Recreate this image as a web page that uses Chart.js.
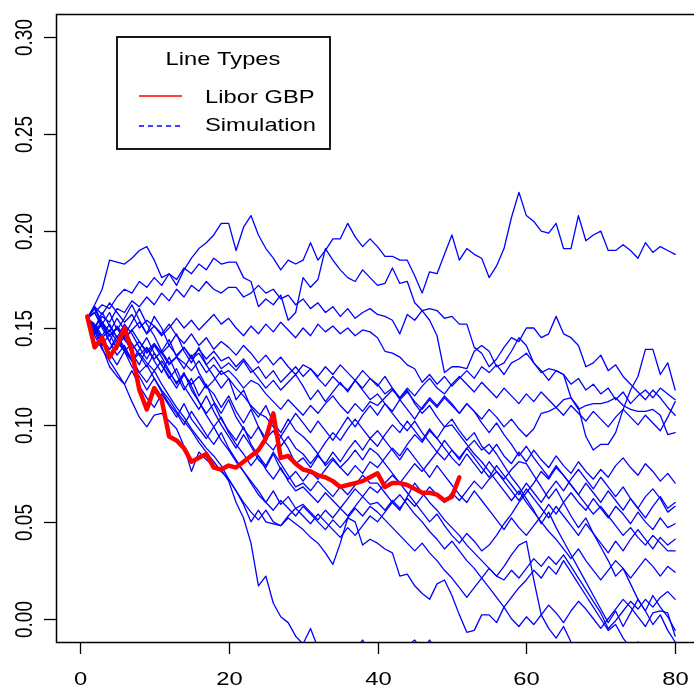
<!DOCTYPE html>
<html>
<head>
<meta charset="utf-8">
<script src="https://cdn.jsdelivr.net/npm/chart.js@4.4.1/dist/chart.umd.min.js"></script>
<style>
  html, body { margin: 0; padding: 0; background: #fff; overflow: hidden; }
  #wrap { position: relative; width: 700px; height: 687px; }
</style>
</head>
<body>
<div id="wrap"><canvas id="rateChart"></canvas></div>
<script>
// Libor GBP observed rate, months 1..51
const libor = [0.156,0.140,0.145,0.135,0.141,0.150,0.138,0.118,0.108,0.119,
  0.113,0.094,0.092,0.088,0.081,0.083,0.085,0.078,0.077,0.079,
  0.078,0.081,0.084,0.087,0.093,0.106,0.083,0.084,0.080,0.077,
  0.076,0.074,0.073,0.071,0.068,0.069,0.070,0.071,0.073,0.075,
  0.068,0.070,0.070,0.069,0.067,0.065,0.065,0.064,0.061,0.063,0.073];

// simulated paths, months 1..80
const sim1 = [.155,.162,.170,.185,.184,.183,.186,.190,.192,.185,
  .176,.178,.172,.180,.186,.191,.194,.198,.204,.204,
  .190,.202,.208,.198,.191,.186,.180,.185,.183,.185,
  .194,.185,.190,.196,.196,.204,.197,.192,.196,.192,
  .187,.187,.185,.185,.177,.168,.179,.178,.188,.198,
  .185,.191,.188,.186,.176,.182,.191,.207,.220,.208,
  .205,.200,.199,.204,.191,.191,.208,.195,.198,.200,
  .190,.190,.193,.190,.186,.194,.189,.192,.190,.188];
const sim2 = [.155,.158,.162,.160,.166,.170,.168,.174,.171,.176,
  .172,.178,.175,.181,.178,.183,.180,.186,.183,.184,
  .184,.176,.174,.161,.165,.162,.167,.154,.158,.176,
  .171,.175,.191,.185,.180,.176,.174,.180,.176,.172,
  .173,.181,.173,.174,.163,.159,.154,.146,.127,.130,
  .130,.129,.138,.141,.138,.130,.132,.138,.145,.141,
  .132,.128,.123,.128,.126,.121,.124,.118,.121,.116,
  .119,.113,.117,.111,.115,.118,.114,.119,.116,.113];
const sim3 = [.155,.150,.156,.153,.160,.158,.164,.161,.166,.162,
  .168,.164,.170,.166,.172,.169,.174,.170,.168,.171,
  .171,.166,.168,.172,.168,.170,.165,.167,.162,.165,
  .160,.163,.158,.161,.156,.160,.155,.158,.160,.157,
  .156,.154,.147,.157,.154,.159,.160,.159,.155,.156,
  .152,.152,.140,.137,.130,.134,.140,.145,.143,.150,
  .150,.145,.147,.156,.147,.145,.141,.130,.132,.136,
  .128,.131,.125,.121,.117,.113,.118,.114,.109,.105];
const sim4 = [.155,.148,.152,.146,.150,.144,.149,.153,.147,.151,
  .146,.150,.155,.150,.154,.149,.153,.157,.152,.155,
  .150,.146,.151,.147,.152,.148,.153,.149,.145,.150,
  .146,.152,.148,.151,.147,.150,.146,.149,.148,.145,
  .138,.137,.135,.131,.129,.122,.126,.121,.125,.120,
  .124,.128,.124,.130,.127,.131,.126,.132,.134,.137,
  .132,.127,.129,.128,.126,.114,.108,.110,.111,.111,
  .112,.114,.110,.108,.107,.107,.108,.105,.095,.096];
const sim5 = [.155,.151,.145,.149,.143,.138,.142,.136,.140,.134,
  .138,.132,.135,.140,.134,.137,.131,.135,.129,.132,
  .128,.133,.127,.130,.124,.128,.122,.126,.130,.125,
  .129,.124,.120,.125,.121,.118,.123,.119,.124,.121,
  .116,.119,.113,.117,.112,.108,.113,.109,.114,.110,
  .106,.111,.107,.103,.108,.104,.099,.103,.098,.094,
  .098,.106,.107,.109,.113,.114,.109,.094,.087,.090,
  .090,.096,.108,.118,.125,.139,.139,.126,.132,.118];
const sim6 = [.155,.161,.157,.163,.158,.153,.157,.150,.154,.151,
  .147,.152,.146,.142,.147,.141,.145,.139,.143,.140,
  .136,.141,.137,.132,.136,.131,.135,.130,.126,.131,
  .129,.125,.130,.126,.131,.127,.123,.128,.124,.120,
  .125,.119,.114,.118,.111,.106,.110,.104,.099,.103,
  .097,.092,.096,.089,.085,.090,.084,.080,.086,.081,
  .087,.082,.078,.084,.079,.075,.081,.076,.072,.077,
  .073,.079,.083,.078,.074,.080,.076,.071,.075,.070];
const sim7 = [.155,.149,.153,.146,.150,.145,.149,.143,.138,.142,
  .137,.141,.136,.140,.135,.139,.134,.138,.133,.135,
  .130,.134,.129,.124,.119,.123,.118,.122,.126,.120,
  .113,.118,.112,.117,.122,.117,.123,.118,.113,.116,
  .111,.107,.113,.108,.103,.109,.114,.110,.115,.111,
  .106,.111,.107,.101,.096,.101,.095,.090,.084,.089,
  .083,.078,.073,.079,.074,.069,.064,.070,.065,.060,
  .066,.061,.056,.062,.057,.052,.058,.063,.057,.060];
const sim8 = [.155,.158,.151,.146,.150,.144,.139,.143,.137,.141,
  .137,.131,.135,.132,.128,.133,.127,.131,.126,.128,
  .124,.119,.123,.121,.116,.112,.108,.113,.109,.105,
  .110,.106,.111,.115,.110,.106,.111,.107,.112,.110,
  .114,.118,.114,.119,.115,.120,.124,.119,.116,.121,
  .125,.121,.117,.122,.118,.114,.119,.115,.111,.116,
  .112,.117,.113,.109,.105,.110,.106,.102,.107,.103,
  .099,.104,.108,.104,.100,.105,.101,.097,.104,.112];
const sim9 = [.155,.150,.144,.139,.144,.138,.133,.137,.132,.128,
  .133,.127,.122,.126,.121,.125,.119,.123,.128,.124,
  .119,.115,.110,.106,.104,.099,.094,.100,.106,.101,
  .096,.102,.097,.092,.098,.104,.099,.105,.110,.105,
  .111,.106,.101,.097,.102,.096,.091,.086,.092,.087,
  .082,.088,.083,.078,.073,.079,.074,.069,.064,.070,
  .065,.060,.066,.071,.066,.072,.077,.072,.067,.073,
  .068,.063,.068,.062,.057,.063,.067,.062,.055,.058];
const sim10 = [.155,.160,.152,.158,.149,.155,.162,.154,.147,.156,
  .150,.141,.147,.138,.132,.140,.131,.125,.119,.124,
  .113,.118,.109,.104,.110,.101,.096,.103,.097,.094,
  .090,.085,.091,.096,.092,.098,.103,.098,.093,.097,
  .092,.087,.082,.088,.083,.078,.073,.079,.074,.069,
  .064,.060,.066,.061,.056,.051,.046,.052,.047,.043,
  .048,.053,.059,.054,.060,.065,.060,.056,.062,.057,
  .052,.058,.054,.049,.055,.050,.046,.052,.047,.049];
const sim11 = [.155,.149,.141,.147,.139,.146,.137,.131,.140,.133,
  .127,.135,.126,.118,.124,.115,.121,.112,.106,.113,
  .104,.098,.093,.099,.091,.087,.094,.088,.080,.083,
  .078,.084,.080,.086,.081,.087,.092,.087,.093,.089,
  .095,.100,.096,.102,.097,.092,.098,.093,.088,.083,
  .079,.085,.080,.075,.081,.076,.071,.066,.061,.067,
  .062,.057,.052,.058,.053,.048,.043,.049,.044,.039,
  .034,.040,.035,.041,.046,.041,.036,.042,.038,.041];
const sim12 = [.155,.158,.150,.143,.151,.146,.153,.160,.152,.146,
  .138,.144,.135,.129,.136,.127,.120,.116,.109,.115,
  .107,.101,.108,.099,.093,.097,.089,.094,.088,.085,
  .080,.085,.079,.083,.078,.082,.087,.082,.088,.085,
  .080,.075,.070,.065,.060,.055,.050,.054,.048,.043,
  .039,.044,.040,.035,.038,.043,.049,.054,.060,.065,
  .070,.076,.072,.078,.074,.069,.064,.059,.054,.058,
  .053,.048,.043,.047,.042,.038,.043,.039,.035,.035];
const sim13 = [.155,.147,.152,.143,.136,.141,.133,.139,.145,.137,
  .131,.124,.129,.120,.114,.108,.115,.107,.100,.094,
  .088,.095,.089,.082,.078,.085,.077,.072,.076,.071,
  .076,.072,.077,.082,.078,.074,.079,.075,.081,.078,
  .083,.088,.084,.090,.095,.091,.097,.093,.099,.100,
  .095,.090,.085,.081,.076,.071,.066,.061,.066,.060,
  .055,.050,.045,.041,.036,.031,.036,.030,.025,.020,
  .025,.030,.026,.021,.026,.031,.027,.022,.027,.024];
const sim14 = [.155,.150,.158,.151,.145,.152,.147,.140,.134,.141,
  .135,.128,.121,.127,.118,.112,.106,.111,.103,.097,
  .092,.099,.090,.084,.079,.086,.080,.074,.068,.070,
  .066,.071,.067,.063,.068,.064,.069,.074,.070,.070,
  .065,.060,.064,.059,.054,.050,.045,.041,.036,.040,
  .035,.030,.026,.021,.016,.011,.006,.000,-.004,.001,
  -.003,.002,.007,.003,-.002,.004,.009,.005,.000,-.005,
  .000,.005,.010,.006,.001,-.004,.003,.004,.003,-.009];
const sim15 = [.155,.161,.153,.148,.155,.149,.142,.136,.130,.137,
  .131,.125,.119,.126,.120,.112,.105,.099,.104,.096,
  .090,.085,.079,.084,.077,.072,.078,.071,.066,.068,
  .064,.060,.065,.061,.057,.062,.067,.063,.068,.065,
  .070,.074,.070,.075,.080,.076,.081,.086,.082,.087,
  .083,.088,.092,.087,.090,.085,.079,.073,.068,.062,
  .056,.049,.055,.047,.040,.033,.026,.019,.012,.005,
  -.002,.004,-.004,.003,.010,.004,.012,.006,.001,-.006];
const sim16 = [.155,.150,.143,.137,.131,.138,.130,.125,.118,.124,
  .117,.111,.106,.100,.107,.101,.095,.090,.096,.088,
  .082,.076,.071,.066,.060,.066,.059,.063,.057,.059,
  .055,.051,.056,.052,.057,.053,.058,.063,.059,.060,
  .056,.061,.057,.062,.058,.063,.068,.064,.060,.065,
  .061,.066,.071,.067,.072,.076,.072,.077,.081,.080,
  .074,.068,.062,.067,.060,.053,.047,.052,.044,.037,
  .030,.022,.026,.018,.010,.004,-.003,.002,-.006,-.012];
const sim17 = [.155,.146,.139,.133,.127,.121,.128,.120,.114,.109,
  .116,.110,.104,.111,.103,.098,.093,.099,.092,.087,
  .081,.076,.070,.064,.060,.056,.061,.057,.053,.058,
  .054,.050,.046,.051,.047,.052,.057,.053,.058,.055,
  .051,.047,.043,.039,.035,.039,.034,.030,.025,.021,
  .016,.011,.016,.021,.026,.022,.027,.033,.038,.040,
  .020,.002,-.005,-.010,-.004,-.012,-.018,-.015,-.022,-.020,
  -.025,-.020,-.028,-.023,-.030,-.026,-.032,-.028,-.035,-.030];
const sim18 = [.155,.152,.146,.152,.145,.139,.133,.127,.131,.124,
  .118,.113,.107,.102,.097,.091,.086,.081,.076,.072,
  .066,.060,.055,.051,.056,.050,.048,.053,.057,.053,
  .049,.054,.050,.046,.042,.047,.043,.048,.053,.050,
  .055,.060,.056,.063,.070,.065,.060,.056,.051,.047,
  .043,.038,.034,.030,.026,.022,.020,.025,.021,.026,
  .031,.027,.032,.028,.033,.027,.021,.015,.009,.003,
  -.005,-.001,.004,.009,.005,.010,.006,.011,.014,.010];
const sim19 = [.155,.151,.144,.139,.146,.140,.134,.127,.122,.128,
  .121,.115,.109,.104,.098,.093,.088,.084,.079,.072,
  .066,.059,.050,.056,.050,.049,.048,.052,.049,.046,
  .042,.039,.034,.028,.039,.052,.050,.038,.041,.039,
  .036,.034,.022,.023,.017,.013,.010,.018,.020,.012,
  .002,-.007,-.006,.002,.002,-.002,.006,.011,.016,.020,
  .025,.021,.027,.023,.030,.024,.018,.012,.006,.000,
  -.006,-.003,-.010,-.015,-.012,-.018,-.024,-.020,-.027,-.025];
const sim20 = [.155,.148,.140,.130,.125,.121,.112,.104,.099,.105,
  .106,.102,.098,.089,.076,.086,.082,.079,.077,.071,
  .060,.052,.039,.017,.022,.008,.001,-.002,-.009,-.013,
  -.005,-.015,-.020,-.018,-.024,-.019,-.016,-.011,-.017,-.022,
  -.026,-.021,-.018,-.014,-.011,-.016,-.011,-.017,-.023,-.028,
  -.033,-.029,-.035,-.040,-.036,-.042,-.038,-.044,-.041,-.047,
  -.050,-.046,-.052,-.048,-.055,-.051,-.057,-.053,-.058,-.055,
  -.060,-.056,-.062,-.058,-.064,-.060,-.066,-.062,-.068,-.064];

const simulations = [sim1, sim2, sim3, sim4, sim5, sim6, sim7, sim8, sim9, sim10,
  sim11, sim12, sim13, sim14, sim15, sim16, sim17, sim18, sim19, sim20];

const xTicks = [0, 20, 40, 60, 80];
const yTicks = [0, 0.05, 0.10, 0.15, 0.20, 0.25, 0.30];
const legendTitle = "Line Types";
const legendLabels = ["Libor GBP", "Simulation"];

const FONT = '"Liberation Sans", Arial, Helvetica, sans-serif';
const STRETCH = 1.25; // text in the picture is a bit wider than tall

function toPoints(arr) {
  return arr.map((v, i) => ({ x: i + 1, y: v }));
}

const datasets = [
  {
    label: legendLabels[0],
    data: toPoints(libor),
    borderColor: "#ff0000",
    borderWidth: 4.5,
  },
];
simulations.forEach((s, i) => {
  datasets.push({
    label: "sim" + (i + 1),
    data: toPoints(s),
    borderColor: "#0000ff",
    borderWidth: 1.3,
  });
});

// box, ticks and labels drawn R style
const rAxes = {
  id: "rAxes",
  afterDraw(chart) {
    const { ctx, chartArea: a, scales } = chart;
    const x = scales.x, y = scales.y;
    ctx.save();
    ctx.strokeStyle = "#000";
    ctx.fillStyle = "#000";
    ctx.lineWidth = 1.5;
    ctx.strokeRect(a.left + 0.5, a.top + 0.5, a.right - a.left, a.bottom - a.top);

    ctx.lineWidth = 1.3;
    ctx.font = "19px " + FONT;
    ctx.textAlign = "center";
    ctx.textBaseline = "middle";
    xTicks.forEach((t) => {
      const px = Math.round(x.getPixelForValue(t)) + 0.5;
      ctx.beginPath();
      ctx.moveTo(px, a.bottom);
      ctx.lineTo(px, a.bottom + 12);
      ctx.stroke();
      ctx.save();
      ctx.translate(px, 680);
      ctx.scale(STRETCH, 1);
      ctx.fillText(String(t), 0, 0);
      ctx.restore();
    });
    yTicks.forEach((t) => {
      const py = Math.round(y.getPixelForValue(t)) + 0.5;
      ctx.beginPath();
      ctx.moveTo(a.left - 12, py);
      ctx.lineTo(a.left, py);
      ctx.stroke();
      ctx.save();
      ctx.translate(25, py);
      ctx.scale(STRETCH, 1);
      ctx.rotate(-Math.PI / 2);
      ctx.fillText(t.toFixed(2), 0, 0);
      ctx.restore();
    });

    // legend box
    ctx.lineWidth = 1.8;
    ctx.strokeRect(117, 37, 213, 112);
    ctx.save();
    ctx.translate(223, 60);
    ctx.scale(STRETCH, 1);
    ctx.fillText(legendTitle, 0, 0);
    ctx.restore();

    ctx.lineWidth = 1.3;
    ctx.strokeStyle = "#ff0000";
    ctx.beginPath();
    ctx.moveTo(139, 96);
    ctx.lineTo(182, 96);
    ctx.stroke();
    ctx.strokeStyle = "#0000ff";
    ctx.setLineDash([5, 4]);
    ctx.beginPath();
    ctx.moveTo(139, 126);
    ctx.lineTo(182, 126);
    ctx.stroke();
    ctx.setLineDash([]);

    ctx.textAlign = "left";
    [98, 126].forEach((ty, i) => {
      ctx.save();
      ctx.translate(205, ty);
      ctx.scale(STRETCH, 1);
      ctx.fillText(legendLabels[i], 0, 0);
      ctx.restore();
    });
    ctx.restore();
  },
};

const ctx = document.getElementById("rateChart").getContext("2d");
new Chart(ctx, {
  type: "line",
  data: { datasets: datasets },
  options: {
    responsive: true,
    maintainAspectRatio: false,
    animation: false,
    events: [],
    layout: { padding: { left: 56, top: 14, right: 1, bottom: 45 } },
    elements: {
      point: { radius: 0 },
      line: { tension: 0, borderJoinStyle: "round", borderCapStyle: "round" },
    },
    plugins: { legend: { display: false }, tooltip: { enabled: false } },
    scales: {
      x: { type: "linear", min: -3.2, max: 83.2, display: false },
      y: { type: "linear", min: -0.012, max: 0.312, display: false },
    },
  },
  plugins: [rAxes],
});
</script>
</body>
</html>
